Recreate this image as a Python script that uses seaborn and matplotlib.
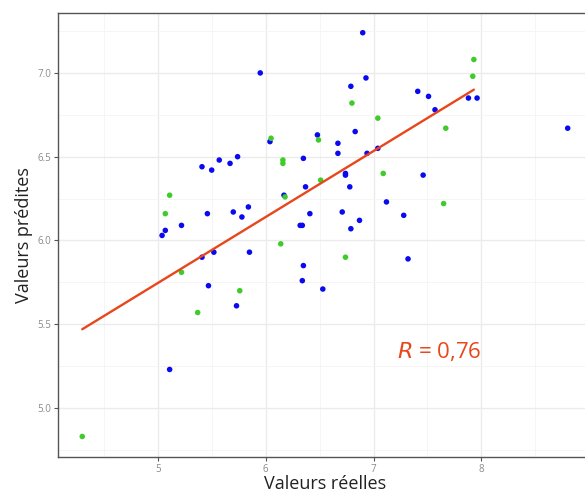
import matplotlib
matplotlib.use("Agg")
import matplotlib.pyplot as plt
import numpy as np
import pandas as pd
import seaborn as sns

# Blue points (réelles, prédites)
blue_x = [5.95, 6.04, 5.41, 5.50, 5.57, 5.67, 5.74, 6.17, 5.07, 5.04, 5.22,
          5.46, 5.70, 5.78, 5.84, 6.32, 6.90, 6.93, 6.79, 7.41, 7.51, 7.88,
          7.96, 7.57, 8.80, 6.48, 6.83, 6.67, 6.67, 6.94, 7.04, 6.35, 6.74,
          6.74, 7.46, 6.78, 6.37, 7.12, 6.41, 6.71, 6.87, 6.79, 7.28, 6.34,
          7.32, 6.35, 6.34, 6.53, 5.41, 5.52, 5.85, 5.47, 5.73, 5.11]
blue_y = [7.00, 6.59, 6.44, 6.42, 6.48, 6.46, 6.50, 6.27, 6.06, 6.03, 6.09,
          6.16, 6.17, 6.14, 6.20, 6.09, 7.24, 6.97, 6.92, 6.89, 6.86, 6.85,
          6.85, 6.78, 6.67, 6.63, 6.65, 6.58, 6.52, 6.52, 6.55, 6.49, 6.40,
          6.39, 6.39, 6.32, 6.32, 6.23, 6.16, 6.17, 6.12, 6.07, 6.15, 6.09,
          5.89, 5.85, 5.76, 5.71, 5.90, 5.93, 5.93, 5.73, 5.61, 5.23]

# Green points
green_x = [6.05, 6.16, 6.16, 6.18, 5.11, 5.07, 6.14, 7.93, 7.92, 6.80, 7.04,
           7.67, 6.49, 7.09, 6.51, 7.65, 6.74, 5.22, 5.76, 5.37, 4.30]
green_y = [6.61, 6.48, 6.46, 6.26, 6.27, 6.16, 5.98, 7.08, 6.98, 6.82, 6.73,
           6.67, 6.60, 6.40, 6.36, 6.22, 5.90, 5.81, 5.70, 5.57, 4.83]

# Regression line ends
fit_x = [4.30, 7.93]
fit_y = [5.47, 6.90]

x_ticks = [5, 6, 7, 8]
y_ticks = [5.0, 5.5, 6.0, 6.5, 7.0]

df = pd.DataFrame({
    "reel": blue_x + green_x,
    "pred": blue_y + green_y,
    "groupe": ["b"] * len(blue_x) + ["g"] * len(green_x),
})
fit = pd.DataFrame({"reel": fit_x, "pred": fit_y})

sns.set_style("white")
plt.rcParams["font.family"] = ["Open Sans", "DejaVu Sans"]

fig = plt.figure(figsize=(5.85, 4.93), dpi=100)
# panel runs a little past the right edge, like the cropped reference
ax = fig.add_axes([0.0991, 0.0730, 0.9128, 0.9006])

# grid (theme_bw style)
ax.set_xlim(4.075, 9.025)
ax.set_ylim(4.7075, 7.3575)
ax.set_xticks(x_ticks)
ax.set_yticks(y_ticks)
ax.set_xticks(np.arange(4.5, 9.0, 1.0), minor=True)
ax.set_yticks(np.arange(4.75, 7.5, 0.5), minor=True)
ax.grid(True, which="major", color="#EBEBEB", linewidth=1.0)
ax.grid(True, which="minor", color="#F4F4F4", linewidth=0.6)
ax.set_axisbelow(True)

sns.scatterplot(data=df, x="reel", y="pred", hue="groupe",
                palette={"b": "#0A0AF0", "g": "#3FCB2A"},
                s=16, linewidth=0, legend=False, ax=ax, zorder=3)
sns.lineplot(data=fit, x="reel", y="pred", color="#E8461B",
             linewidth=1.7, ax=ax, zorder=4)

ax.text(7.61, 5.34, r"$\it{R}$ = 0,76", color="#E8461B", fontsize=16,
        ha="center", va="center")

ax.set_yticklabels([f"{v:.1f}" for v in y_ticks])
ax.tick_params(axis="both", which="major", labelsize=7, labelcolor="#8A8A8A",
               length=3, width=0.8, color="#555555", left=True, bottom=True,
               pad=2)
ax.tick_params(which="minor", length=0)
for s in ax.spines.values():
    s.set_color("#555555")
    s.set_linewidth(1.0)
ax.spines["right"].set_visible(False)

ax.set_xlabel("Valeurs réelles", fontsize=13, color="#222222", labelpad=0)
ax.set_ylabel("Valeurs prédites", fontsize=13, color="#222222", labelpad=3)

fig.savefig("out.png", dpi=100)
